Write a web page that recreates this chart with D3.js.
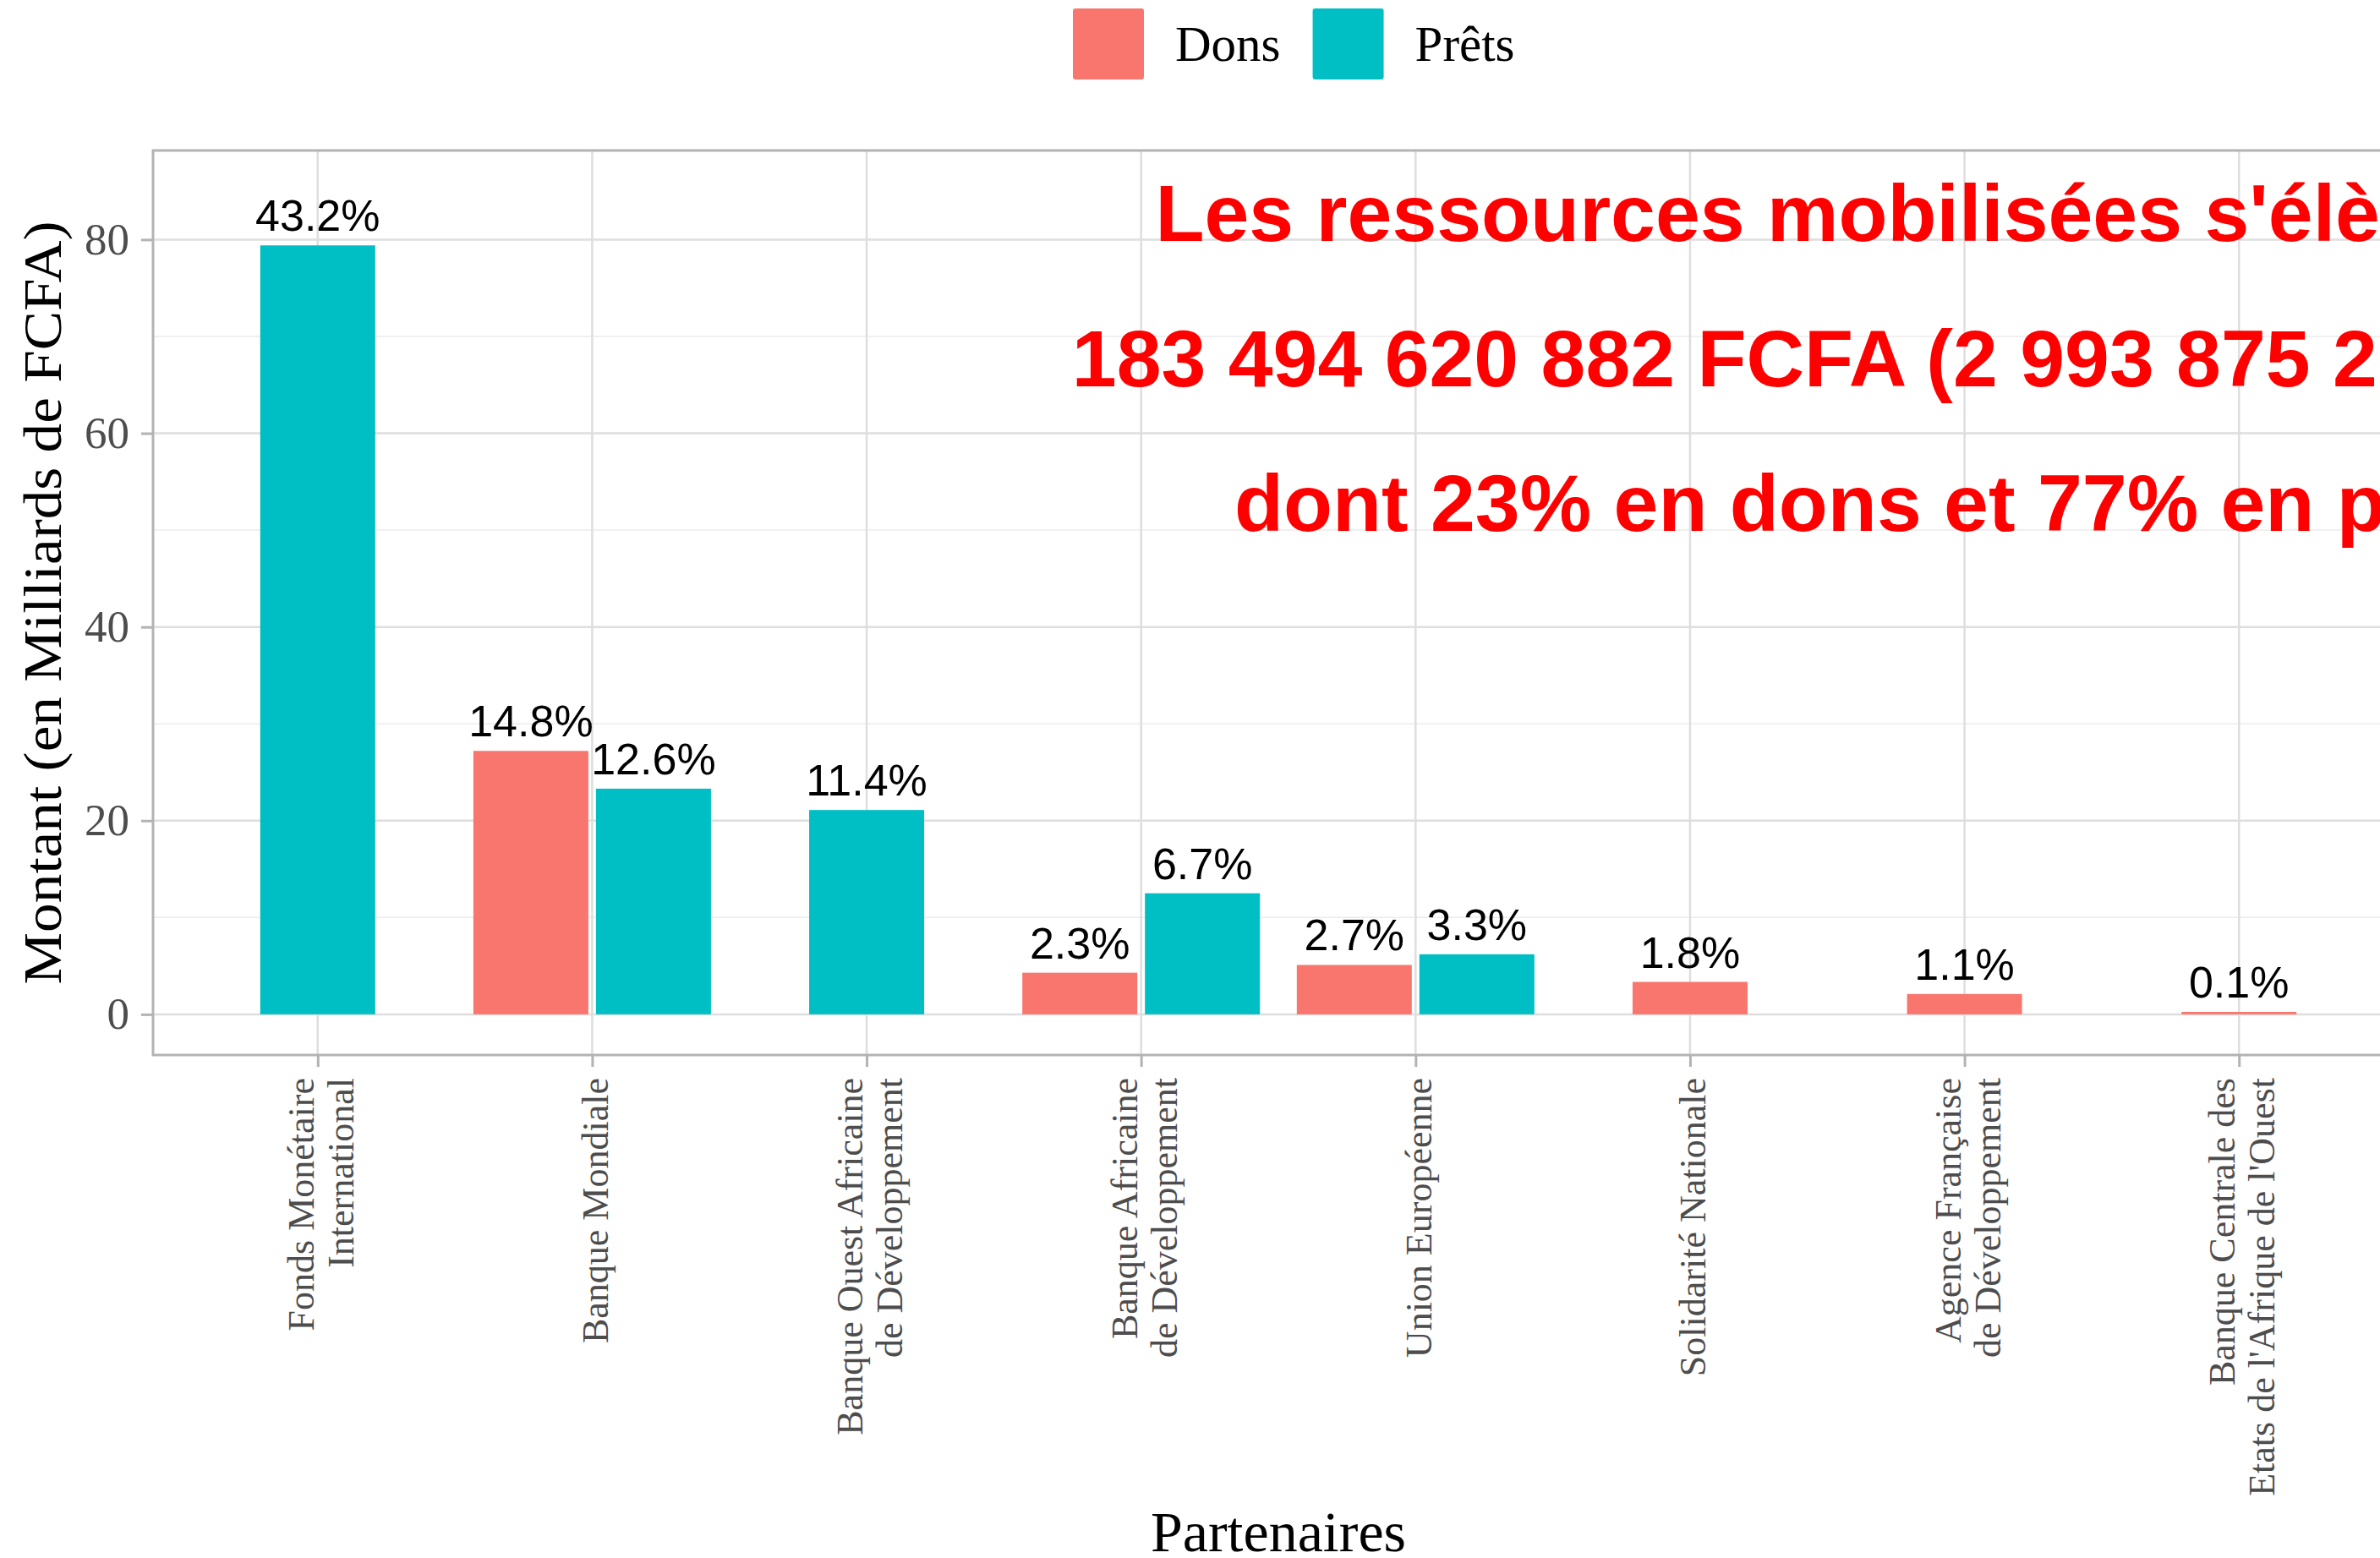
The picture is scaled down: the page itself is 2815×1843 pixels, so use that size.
<!DOCTYPE html>
<html>
<head>
<meta charset="utf-8">
<script src="https://cdn.jsdelivr.net/npm/d3@7"></script>
<style>
  body { margin:0; background:#fff; }
  svg { display:block; overflow:hidden; }
</style>
</head>
<body>
<div id="chart"></div>
<script>
// partners, in the order of the x axis
var categories = [
  "Fonds Monétaire\nInternational",
  "Banque Mondiale",
  "Banque Ouest Africaine\nde Développement",
  "Banque Africaine\nde Développement",
  "Union Européenne",
  "Solidarité Nationale",
  "Agence Française\nde Développement",
  "Banque Centrale des\nEtats de l'Afrique de l'Ouest"
]
// amounts in billions FCFA (null = no bar)
var dons  = [null, 27.2, null, 4.3, 5.1, 3.35, 2.1, 0.25]
var prets = [79.4, 23.3, 21.1, 12.5, 6.2, null, null, null]
// share of the total, printed above each bar
var donsPct  = [null, "14.8%", null, "2.3%", "2.7%", "1.8%", "1.1%", "0.1%"]
var pretsPct = ["43.2%", "12.6%", "11.4%", "6.7%", "3.3%", null, null, null]

var series = ["Dons", "Prêts"]
var colors = ["#F8766D", "#00BFC4"]
var yTicks = [0, 20, 40, 60, 80]
var yMinor = [10, 30, 50, 70]

var titleLines = [
  "Les ressources mobilisées s'élèvent à",
  "183 494 620 882 FCFA (2 993 875 200 USD)",
  "dont 23% en dons et 77% en prêts"
]

var W = 2815, H = 1843
var panel = { left:181, top:178, right:2843, bottom:1248 }
var serif = "'Liberation Serif', 'Times New Roman', serif"
var sans = "'Liberation Sans', Arial, sans-serif"

var svg = d3.select("#chart").append("svg")
    .attr("width", W).attr("height", H)

var x = d3.scalePoint()
    .domain(categories)
    .range([panel.left, panel.right])
    .padding(0.6)

var y = d3.scaleLinear()
    .domain([-4.2, 89.2])
    .range([panel.bottom, panel.top])

// grid
var grid = svg.append("g").attr("class", "grid")
grid.selectAll(".minor").data(yMinor).enter().append("line")
    .attr("x1", panel.left).attr("x2", panel.right)
    .attr("y1", d => y(d)).attr("y2", d => y(d))
    .attr("stroke", "#ebebeb").attr("stroke-width", 1.5)
grid.selectAll(".major").data(yTicks).enter().append("line")
    .attr("x1", panel.left).attr("x2", panel.right)
    .attr("y1", d => y(d)).attr("y2", d => y(d))
    .attr("stroke", "#DEDEDE").attr("stroke-width", 2.5)
grid.selectAll(".vmajor").data(categories).enter().append("line")
    .attr("x1", d => x(d)).attr("x2", d => x(d))
    .attr("y1", panel.top).attr("y2", panel.bottom)
    .attr("stroke", "#DEDEDE").attr("stroke-width", 2.5)

// bars (dodged when both series exist)
var barW = 136, gap = 9
var rows = []
categories.forEach((c, i) => {
  var both = dons[i] != null && prets[i] != null
  if (dons[i] != null) rows.push({c:c, v:dons[i], lab:donsPct[i], s:0, off: both ? -(barW + gap) / 2 : 0})
  if (prets[i] != null) rows.push({c:c, v:prets[i], lab:pretsPct[i], s:1, off: both ? (barW + gap) / 2 : 0})
})

svg.append("g").selectAll("rect").data(rows).enter().append("rect")
    .attr("x", d => x(d.c) + d.off - barW / 2)
    .attr("width", barW)
    .attr("y", d => y(d.v))
    .attr("height", d => y(0) - y(d.v))
    .attr("fill", d => colors[d.s])

svg.append("g").selectAll("text").data(rows).enter().append("text")
    .attr("x", d => x(d.c) + d.off)
    .attr("y", d => y(d.v) - 17)
    .attr("text-anchor", "middle")
    .style("font-family", sans).style("font-size", "52px").attr("fill", "#000")
    .text(d => d.lab)

// panel border
svg.append("rect")
    .attr("x", panel.left).attr("y", panel.top)
    .attr("width", panel.right - panel.left).attr("height", panel.bottom - panel.top)
    .attr("fill", "none").attr("stroke", "#B3B3B3").attr("stroke-width", 3)

// y axis
var ya = svg.append("g")
    .attr("transform", `translate(${panel.left},0)`)
    .call(d3.axisLeft(y).tickValues(yTicks).tickSize(14).tickPadding(14))
ya.select(".domain").remove()
ya.selectAll(".tick line").attr("stroke", "#B3B3B3").attr("stroke-width", 3)
ya.selectAll(".tick text")
    .style("font-family", serif).style("font-size", "53px").attr("fill", "#4D4D4D")

// x axis, multi-line rotated labels
var xa = svg.append("g")
    .attr("transform", `translate(0,${panel.bottom})`)
    .call(d3.axisBottom(x).tickSize(14))
xa.select(".domain").remove()
xa.selectAll(".tick line").attr("stroke", "#B3B3B3").attr("stroke-width", 3)
xa.selectAll(".tick text").remove()
xa.selectAll(".tick").each(function (d) {
  var lines = d.split("\n")
  var t = d3.select(this).append("text")
      .attr("transform", "translate(0,27) rotate(-90)")
      .attr("text-anchor", "end")
      .style("font-family", serif).style("font-size", "44px").attr("fill", "#4D4D4D")
  lines.forEach((ln, i) => {
    t.append("tspan").attr("x", 0)
      .attr("y", 18 + (i - (lines.length - 1) / 2) * 47)
      .text(ln)
  })
})

// axis titles
svg.append("text")
    .attr("x", (panel.left + panel.right) / 2).attr("y", 1835)
    .attr("text-anchor", "middle")
    .style("font-family", serif).style("font-size", "68px").attr("fill", "#000")
    .text("Partenaires")

svg.append("text")
    .attr("transform", `translate(72,${(panel.top + panel.bottom) / 2}) rotate(-90)`)
    .attr("text-anchor", "middle")
    .attr("textLength", 903).attr("lengthAdjust", "spacingAndGlyphs")
    .style("font-family", serif).style("font-size", "63px").attr("fill", "#000")
    .text("Montant (en Milliards de FCFA)")

// legend on top
var lx = 1269
series.forEach((s, i) => {
  svg.append("rect")
      .attr("x", lx).attr("y", 10).attr("width", 84).attr("height", 84)
      .attr("rx", 3).attr("fill", colors[i])
  var t = svg.append("text")
      .attr("x", lx + 84 + 37).attr("y", 72)
      .style("font-family", serif).style("font-size", "59px").attr("fill", "#000")
      .text(s)
  lx += 84 + 37 + t.node().getComputedTextLength() + 38
})

// annotation in red (runs past the right edge, as in the source)
svg.append("g").selectAll("text").data(titleLines).enter().append("text")
    .attr("x", (d, i) => i == 1 ? 2222 : 2228)
    .attr("y", (d, i) => 285 + i * 171.5)
    .attr("text-anchor", "middle")
    .style("font-family", sans).style("font-size", "95px").style("font-weight", "bold")
    .attr("fill", "#FF0000")
    .text(d => d)
</script>
</body>
</html>
